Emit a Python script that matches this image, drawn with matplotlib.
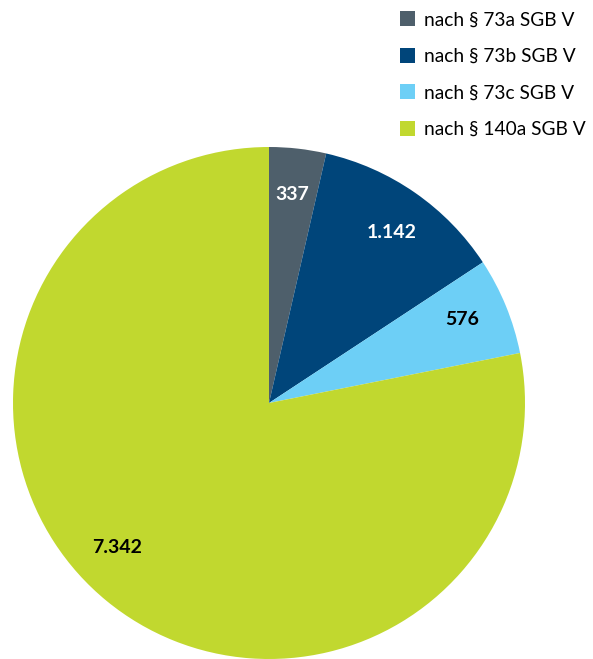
import math
import matplotlib.pyplot as plt
from matplotlib.patches import Patch

plt.rcParams["font.family"] = ["Lato", "DejaVu Sans"]

LABELS = ["nach § 73a SGB V", "nach § 73b SGB V", "nach § 73c SGB V", "nach § 140a SGB V"]
VALUES = [337, 1142, 576, 7342]
VALUE_TEXT = ["337", "1.142", "576", "7.342"]
COLORS = ["#4e5f6b", "#00457a", "#6dcff6", "#c1d82f"]
TEXT_COLORS = ["white", "white", "black", "black"]

# label nudges (degrees), the big slice label sits a bit higher in the original
ANGLE_NUDGE = [0, -1, 1, -7]


def main():
    fig = plt.figure(figsize=(5.93, 6.59), dpi=100)
    ax = fig.add_axes([13 / 593, 0 / 659, 512 / 593, 512 / 659])

    ax.pie(
        VALUES,
        colors=COLORS,
        startangle=90,
        counterclock=False,
        radius=1.0,
        wedgeprops={"linewidth": 0},
    )

    total = sum(VALUES)
    start = 90.0
    for i, v in enumerate(VALUES):
        span = v / total * 360
        mid = math.radians(start - span / 2 + ANGLE_NUDGE[i])
        start -= span
        ax.text(
            0.82 * math.cos(mid), 0.82 * math.sin(mid), VALUE_TEXT[i],
            ha="center", va="center", fontsize=14, fontweight="bold",
            color=TEXT_COLORS[i],
        )

    ax.set_xlim(-1, 1)
    ax.set_ylim(-1, 1)
    ax.set_aspect("equal")
    ax.axis("off")

    handles = [Patch(facecolor=c, edgecolor="none") for c in COLORS]
    fig.legend(
        handles, LABELS,
        loc="upper left",
        bbox_to_anchor=(385 / 593, 1 + 4 / 659),
        frameon=False,
        fontsize=13.8,
        handlelength=0.75,
        handleheight=0.8,
        handletextpad=0.5,
        labelspacing=1.02,
        borderpad=0.3,
    )

    fig.savefig("out.png", dpi=100)
    plt.close(fig)


if __name__ == "__main__":
    main()
